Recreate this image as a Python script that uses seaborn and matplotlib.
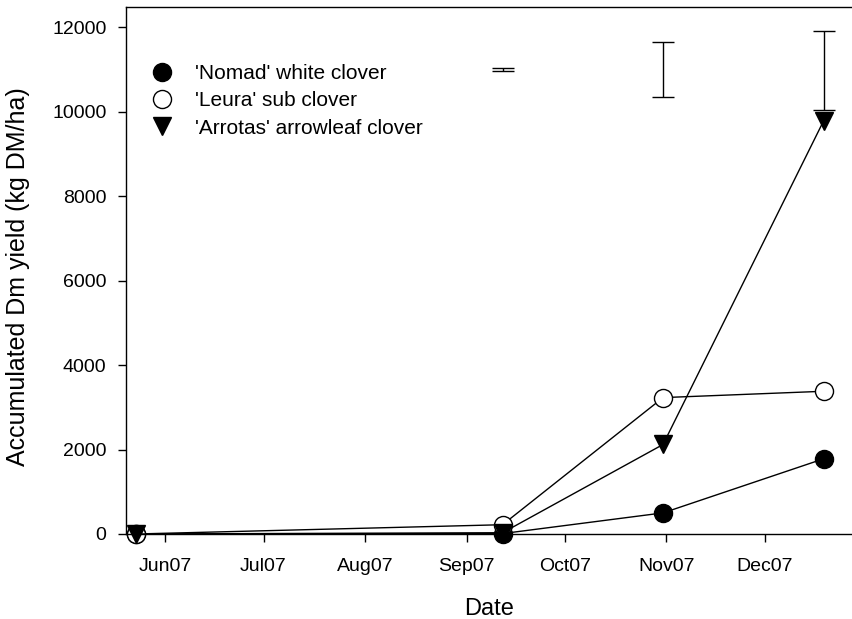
import pandas as pd
import numpy as np
import matplotlib
matplotlib.use("Agg")
import matplotlib.pyplot as plt
import matplotlib.dates as mdates
from matplotlib.lines import Line2D
import seaborn as sns

# ==============================
# Data
# ==============================
dates = pd.to_datetime(["2007-05-23", "2007-09-12", "2007-10-31", "2007-12-19"])
nomad = [0, 10, 500, 1780]
leura = [0, 220, 3230, 3380]
arrotas = [0, 30, 2120, 9780]

# LSD bars drawn near top of plot
lsd_dates = pd.to_datetime(["2007-09-12", "2007-10-31", "2007-12-19"])
lsd_centre = [11000, 11000, 10980]
lsd_half = [40, 640, 930]

series_names = ["'Nomad' white clover", "'Leura' sub clover", "'Arrotas' arrowleaf clover"]

# ==============================
# Plot
# ==============================
sns.set_style("ticks")
plt.rcParams["font.family"] = ["Liberation Sans", "DejaVu Sans"]
plt.rcParams["text.color"] = "black"

fig = plt.figure(figsize=(8.52, 6.19), dpi=100)
ax = fig.add_axes([126 / 852, 85 / 619, 727 / 852, 527 / 619])

styles = [
    (nomad, "o", "black"),
    (leura, "o", "white"),
    (arrotas, "v", "black"),
]

for vals, mk, fc in styles:
    df = pd.DataFrame({"date": dates, "yield": vals})
    sns.lineplot(data=df, x="date", y="yield", ax=ax, color="black", lw=1,
                 marker=mk, markersize=13, markerfacecolor=fc,
                 markeredgecolor="black", markeredgewidth=1, clip_on=False)

ax.errorbar(lsd_dates, lsd_centre, yerr=lsd_half, fmt="none", ecolor="black",
            elinewidth=1, capsize=8, capthick=1)

ax.set_xlim(pd.Timestamp("2007-05-20"), pd.Timestamp("2007-12-28"))
ax.set_ylim(0, 12480)
ax.set_yticks(np.arange(0, 12001, 2000))
ax.xaxis.set_major_locator(mdates.MonthLocator(bymonth=range(6, 13)))
ax.xaxis.set_major_formatter(mdates.DateFormatter("%b%y"))

ax.tick_params(axis="both", direction="out", length=6, width=1, pad=8,
               labelsize=14, color="black", labelcolor="black")
ax.tick_params(axis="x", pad=11)
ax.spines["right"].set_visible(False)
for sp in ax.spines.values():
    sp.set_color("black")
    sp.set_linewidth(1)

ax.set_xlabel("Date", fontsize=17, labelpad=17, color="black")
ax.set_ylabel("Accumulated Dm yield (kg DM/ha)", fontsize=18, color="black")
ax.yaxis.set_label_coords(-0.132, 0.488)

handles = [
    Line2D([], [], ls="none", marker="o", markersize=13, markerfacecolor="black", markeredgecolor="black"),
    Line2D([], [], ls="none", marker="o", markersize=13, markerfacecolor="white", markeredgecolor="black"),
    Line2D([], [], ls="none", marker="v", markersize=13, markerfacecolor="black", markeredgecolor="black"),
]
leg = ax.legend(handles, series_names, loc="upper left", bbox_to_anchor=(0.021, 0.907),
                frameon=False, fontsize=15, handletextpad=1.0, labelspacing=0.39,
                handlelength=1.2, borderaxespad=0)
for t in leg.get_texts():
    t.set_color("black")

fig.savefig("out.png", dpi=100)
